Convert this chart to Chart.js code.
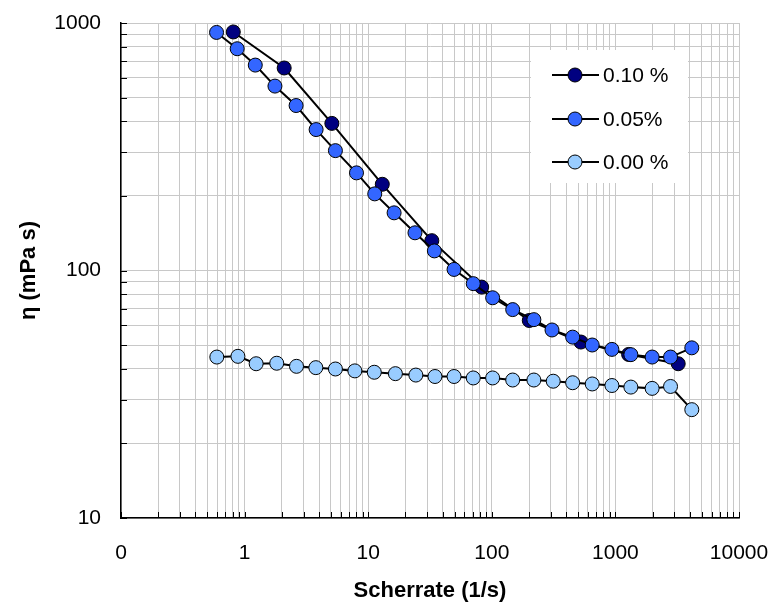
<!DOCTYPE html>
<html>
<head>
<meta charset="utf-8">
<script src="https://cdn.jsdelivr.net/npm/chart.js@4.4.1/dist/chart.umd.min.js"></script>
<style>
  html, body { margin: 0; padding: 0; background: #fff; }
  #wrap { width: 776px; height: 606px; }
</style>
</head>
<body>
<div id="wrap"><canvas id="chart" width="776" height="606"></canvas></div>
<script>
// Series data (shear rate in 1/s, viscosity in mPa s)
const rate010 = [0.81, 2.09, 5.08, 13.0, 32.7, 82.8, 201, 526, 1279, 3222];
const eta010 = [920, 658, 393, 223, 132, 85.7, 62.8, 51.4, 45.8, 42.0];

const rate005 = [0.593, 0.871, 1.22, 1.76, 2.61, 3.79, 5.43, 8.04, 11.3, 16.2, 23.9, 34.3,
  49.5, 70.8, 101.6, 147.6, 219, 307, 451, 649, 937, 1334, 1982, 2793, 4150];
const eta005 = [916, 787, 676, 556, 464, 371, 305, 248, 204, 171, 142, 120,
  101, 88.5, 77.6, 69.5, 63.3, 57.5, 53.8, 50.0, 48.0, 45.7, 44.7, 44.7, 48.7];

const rate000 = [0.596, 0.883, 1.24, 1.82, 2.63, 3.77, 5.43, 7.80, 11.2, 16.6, 24.3, 34.7,
  49.5, 70.8, 101.6, 147.6, 219, 314, 451, 649, 937, 1334, 1982, 2793, 4150];
const eta000 = [44.7, 45.0, 42.0, 42.2, 41.0, 40.5, 40.0, 39.3, 38.8, 38.3, 37.8, 37.3,
  37.3, 36.8, 36.8, 36.1, 36.1, 35.7, 35.2, 34.8, 34.3, 33.8, 33.4, 34.0, 27.4];

const seriesLabels = ["0.10 %", "0.05%", "0.00 %"];

const FONT = "'Liberation Sans', Arial, sans-serif";

const toPoints = (xs, ys) => xs.map((x, i) => ({ x, y: ys[i] }));

// 1..9 x 10^n ticks so every decade gets its minor grid lines
const logTicks = (min, max) => {
  const out = [];
  for (let e = Math.round(Math.log10(min)); e < Math.round(Math.log10(max)); e++) {
    for (let m = 1; m < 10; m++) out.push({ value: +(m * Math.pow(10, e)).toPrecision(6) });
  }
  out.push({ value: max });
  return out;
};

const isDecade = (v) => Math.abs(Math.log10(v) - Math.round(Math.log10(v))) < 1e-9;

// small inward tick marks on both axes
const tickMarks = {
  id: "tickMarks",
  afterDraw(chart) {
    const { ctx, chartArea } = chart;
    const xs = chart.scales.x, ys = chart.scales.y;
    ctx.save();
    ctx.strokeStyle = "#000";
    ctx.lineWidth = 1;
    xs.ticks.forEach((t) => {
      const px = Math.round(xs.getPixelForValue(t.value)) + 0.5;
      ctx.beginPath();
      ctx.moveTo(px, chartArea.bottom);
      ctx.lineTo(px, chartArea.bottom - 6);
      ctx.stroke();
    });
    ys.ticks.forEach((t) => {
      const py = Math.round(ys.getPixelForValue(t.value)) + 0.5;
      ctx.beginPath();
      ctx.moveTo(chartArea.left, py);
      ctx.lineTo(chartArea.left + 6, py);
      ctx.stroke();
    });
    ctx.restore();
  },
};

// legend box sitting inside the plot, like the original
const insideLegend = {
  id: "insideLegend",
  afterDatasetsDraw(chart) {
    const { ctx } = chart;
    ctx.save();
    ctx.fillStyle = "#fff";
    ctx.fillRect(531, 50, 157, 133);
    const rows = [75, 119, 162];
    chart.data.datasets.forEach((ds, i) => {
      const y = rows[i];
      ctx.strokeStyle = "#000";
      ctx.lineWidth = 2;
      ctx.beginPath();
      ctx.moveTo(552, y);
      ctx.lineTo(599, y);
      ctx.stroke();
      ctx.beginPath();
      ctx.arc(575, y, 7, 0, Math.PI * 2);
      ctx.fillStyle = ds.backgroundColor;
      ctx.fill();
      ctx.lineWidth = 1;
      ctx.stroke();
      ctx.fillStyle = "#000";
      ctx.font = "21px " + FONT;
      ctx.textBaseline = "middle";
      ctx.textAlign = "left";
      ctx.fillText(ds.label, 603, y + 1);
    });
    ctx.restore();
  },
};

const makeSet = (label, xs, ys, color, order) => ({
  label,
  data: toPoints(xs, ys),
  borderColor: "#000",
  borderWidth: 2,
  backgroundColor: color,
  pointBackgroundColor: color,
  pointBorderColor: "#000",
  pointBorderWidth: 1,
  pointRadius: 7,
  pointHoverRadius: 7,
  tension: 0,
  fill: false,
  order,
});

document.addEventListener("DOMContentLoaded", () => {
  const ctx = document.getElementById("chart").getContext("2d");
  new Chart(ctx, {
    type: "line",
    data: {
      datasets: [
        makeSet(seriesLabels[0], rate010, eta010, "#000080", 3),
        makeSet(seriesLabels[1], rate005, eta005, "#3366ff", 2),
        makeSet(seriesLabels[2], rate000, eta000, "#99ccff", 1),
      ],
    },
    options: {
      responsive: false,
      animation: false,
      devicePixelRatio: 1,
      layout: { padding: { left: 0, right: 37, top: 23, bottom: 0 } },
      plugins: { legend: { display: false }, tooltip: { enabled: false } },
      scales: {
        x: {
          type: "logarithmic",
          min: 0.1,
          max: 10000,
          afterBuildTicks: (scale) => { scale.ticks = logTicks(0.1, 10000); },
          afterFit: (scale) => {
            scale.height = 88;
            scale.paddingLeft = 0;
            scale.paddingRight = 0;
          },
          grid: { color: "#c8c8c8", lineWidth: 1, drawTicks: false },
          border: { color: "#000", width: 1.5 },
          ticks: {
            autoSkip: false,
            maxRotation: 0,
            padding: 23,
            color: "#000",
            font: { family: FONT, size: 21 },
            callback: (v) => (isDecade(v) ? (v < 1 ? "0" : String(v)) : ""),
          },
          title: {
            display: true,
            text: "Scherrate (1/s)",
            color: "#000",
            font: { family: FONT, size: 22, weight: "bold" },
            padding: { top: 0, bottom: 2 },
          },
        },
        y: {
          type: "logarithmic",
          min: 10,
          max: 1000,
          afterBuildTicks: (scale) => { scale.ticks = logTicks(10, 1000); },
          afterFit: (scale) => {
            scale.width = 121;
            scale.paddingTop = 0;
            scale.paddingBottom = 0;
          },
          grid: { color: "#c8c8c8", lineWidth: 1, drawTicks: false },
          border: { color: "#000", width: 1.5 },
          ticks: {
            autoSkip: false,
            padding: 20,
            color: "#000",
            font: { family: FONT, size: 21 },
            callback: (v) => (isDecade(v) ? String(v) : ""),
          },
          title: {
            display: true,
            text: "η (mPa s)",
            color: "#000",
            font: { family: FONT, size: 22, weight: "bold" },
            padding: { top: 16, bottom: 0 },
          },
        },
      },
    },
    plugins: [tickMarks, insideLegend],
  });
});
</script>
</body>
</html>
